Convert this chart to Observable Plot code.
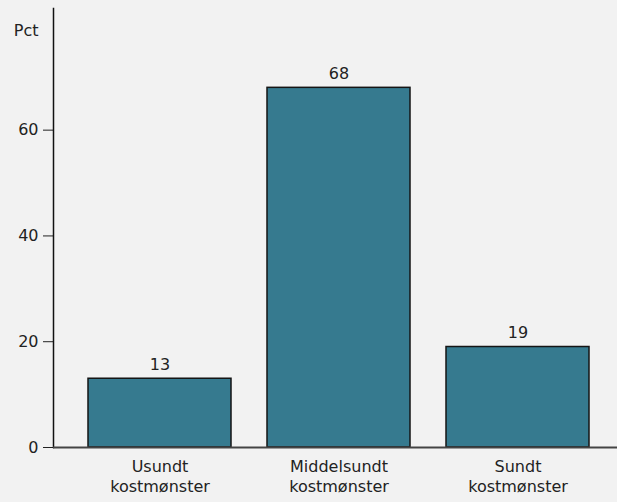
<!DOCTYPE html>
<html>
<head>
<meta charset="utf-8">
<script src="https://cdn.jsdelivr.net/npm/d3@7"></script>
<script src="https://cdn.jsdelivr.net/npm/@observablehq/plot@0.6"></script>
<style>
  html, body { margin: 0; padding: 0; background: #f2f2f2; }
  #chart { width: 617px; height: 502px; }
</style>
</head>
<body>
<div id="chart"></div>
<script>
// Share of respondents by dietary pattern (percent)
const categories = ["Usundt\nkostmønster", "Middelsundt\nkostmønster", "Sundt\nkostmønster"];
const values = [13, 68, 19];
const yTicks = [0, 20, 40, 60];
const yLabel = "Pct";

const data = categories.map((c, i) => ({category: c, value: values[i]}));

const chart = Plot.plot({
  width: 617,
  height: 502,
  marginLeft: 53,
  marginRight: 0,
  marginTop: 8,
  marginBottom: 55,
  style: {background: "#f2f2f2", fontFamily: "'DejaVu Sans', sans-serif", fontSize: "16px", color: "#222"},
  x: {domain: categories, padding: 0.2, paddingOuter: 0, insetLeft: 35, insetRight: 27, label: null},
  y: {domain: [0, 83], label: null},
  marks: [
    Plot.barY(data, {x: "category", y: "value", fill: "#367a8f", stroke: "#151515", strokeWidth: 1.5}),
    Plot.text(data, {x: "category", y: "value", text: d => String(d.value), dy: -9, lineAnchor: "bottom", fill: "#222"}),
    Plot.axisX({tickSize: 0, tickPadding: 10, label: null, lineHeight: 1.25}),
    Plot.axisY({ticks: yTicks, tickSize: 10, tickPadding: 5, label: null}),
    Plot.frame({anchor: "left", stroke: "#111", strokeWidth: 1.5}),
    Plot.ruleY([0], {stroke: "#444", strokeWidth: 2}),
    Plot.text([yLabel], {frameAnchor: "top-left", textAnchor: "end", dx: -15, dy: 16, fill: "#222"})
  ]
});
document.getElementById("chart").appendChild(chart);
</script>
</body>
</html>
